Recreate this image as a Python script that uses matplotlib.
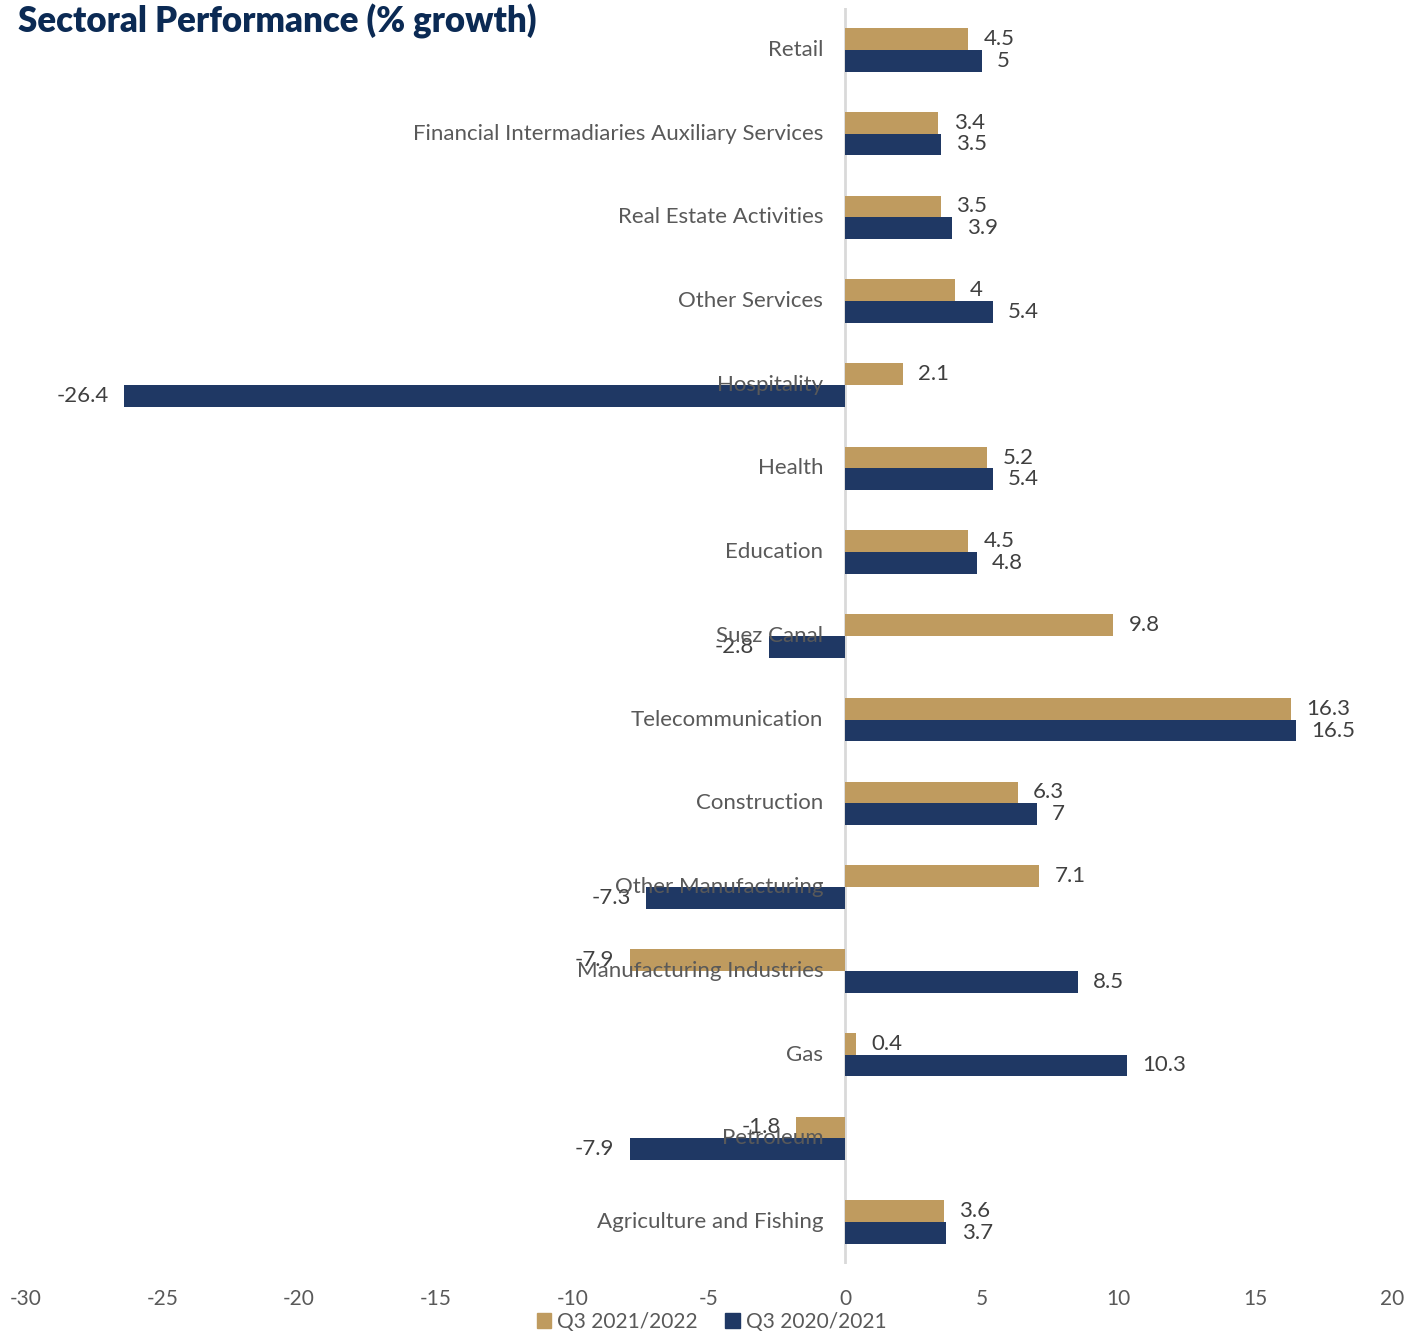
import numpy as np
import matplotlib
matplotlib.use("Agg")
import matplotlib.pyplot as plt
import matplotlib.patches as mpatches

sectors = [
    "Retail",
    "Financial Intermadiaries Auxiliary Services",
    "Real Estate Activities",
    "Other Services",
    "Hospitality",
    "Health",
    "Education",
    "Suez Canal",
    "Telecommunication",
    "Construction",
    "Other Manufacturing",
    "Manufacturing Industries",
    "Gas",
    "Petroleum",
    "Agriculture and Fishing",
]
q3_2122 = [4.5, 3.4, 3.5, 4, 2.1, 5.2, 4.5, 9.8, 16.3, 6.3, 7.1, -7.9, 0.4, -1.8, 3.6]
q3_2021 = [5, 3.5, 3.9, 5.4, -26.4, 5.4, 4.8, -2.8, 16.5, 7, -7.3, 8.5, 10.3, -7.9, 3.7]
series_labels = ["Q3 2021/2022", "Q3 2020/2021"]
x_ticks = [-30, -25, -20, -15, -10, -5, 0, 5, 10, 15, 20]

gold = "#BF9B5F"
navy = "#1F3864"
label_grey = "#595959"
value_grey = "#404040"

plt.rcParams["font.family"] = ["Lato", "DejaVu Sans"]

fig = plt.figure(figsize=(14.23, 13.36), dpi=100)
ax = fig.add_axes([0.0183, 0.054, 0.9597, 0.940])

y = np.arange(len(sectors))
h = 0.26
ax.barh(y - h / 2, q3_2122, height=h, color=gold, zorder=2)
ax.barh(y + h / 2, q3_2021, height=h, color=navy, zorder=2)

ax.set_xlim(-30, 20)
ax.set_ylim(len(sectors) - 0.5, -0.5)
ax.axvline(0, color="#d9d9d9", linewidth=2, zorder=1)

# value labels at bar ends
for vals, offs in ((q3_2122, -h / 2), (q3_2021, h / 2)):
    for i, v in enumerate(vals):
        ha = "left" if v >= 0 else "right"
        dx = 11 if v >= 0 else -11
        ax.annotate(f"{v:g}", (v, i + offs), xytext=(dx, 0), textcoords="offset points",
                    ha=ha, va="center", fontsize=16, color=value_grey, zorder=3)

# category names sit just left of the zero line
for i, name in enumerate(sectors):
    ax.annotate(name, (0, i), xytext=(-16, 0), textcoords="offset points",
                ha="right", va="center", fontsize=16, color=label_grey, zorder=4)

ax.set_yticks([])
ax.set_xticks(x_ticks)
ax.set_xticklabels([str(t) for t in x_ticks])
ax.tick_params(axis="x", length=0, pad=18, labelsize=15, labelcolor=label_grey)
for s in ax.spines.values():
    s.set_visible(False)

fig.text(0.013, 0.984, "Sectoral Performance (% growth)", fontsize=25, fontweight="heavy",
         color="#0B2A54", ha="left", va="center", zorder=5)

handles = [mpatches.Patch(color=gold, label=series_labels[0]),
           mpatches.Patch(color=navy, label=series_labels[1])]
leg = fig.legend(handles=handles, loc="lower center", bbox_to_anchor=(0.5, -0.011), ncol=2,
                 frameon=False, fontsize=15, handlelength=0.7, handleheight=0.7,
                 handletextpad=0.3, columnspacing=1.3)
for t in leg.get_texts():
    t.set_color(label_grey)

fig.savefig("out.png", dpi=100)
